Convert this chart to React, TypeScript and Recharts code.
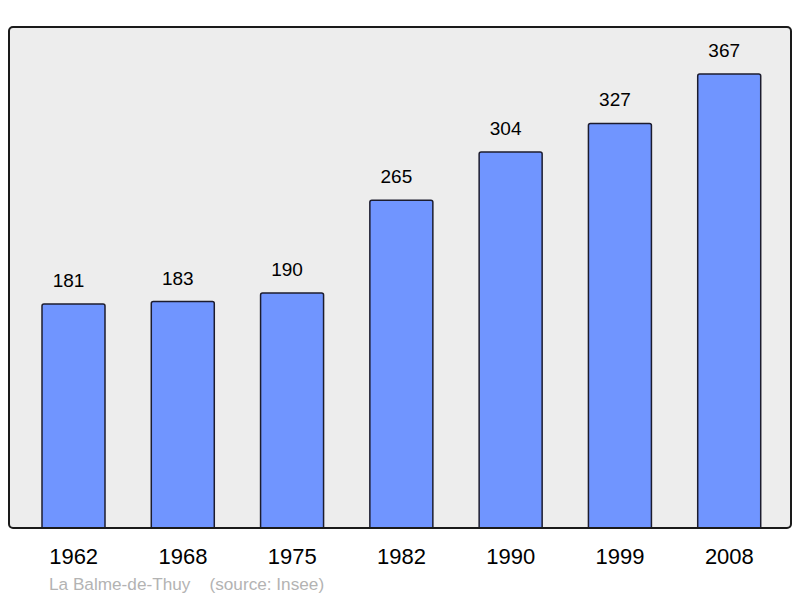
import { BarChart, Bar, XAxis, YAxis, CartesianGrid, LabelList } from "recharts";

const years = ["1962", "1968", "1975", "1982", "1990", "1999", "2008"];
const population = [181, 183, 190, 265, 304, 327, 367];

const data = years.map((year, i) => ({ year, value: population[i] }));

const FONT = "'Liberation Sans', Arial, sans-serif";

export default function App() {
  return (
    <div style={{ position: "absolute", left: 0, top: 0, width: 800, height: 598, fontFamily: FONT }}>
      <BarChart
        width={800}
        height={598}
        data={data}
        margin={{ top: 27, right: 9, bottom: 30, left: 9 }}
      >
        <CartesianGrid fill="#ededed" stroke="none" />
        <XAxis
          dataKey="year"
          height={40}
          axisLine={false}
          tickLine={false}
          tickSize={0}
          tickMargin={20}
          padding={{ left: 10, right: 7 }}
          tick={{ fill: "#000", fontSize: 22, fontFamily: FONT }}
        />
        <YAxis hide domain={[0, 405]} />
        <Bar
          dataKey="value"
          fill="#7095ff"
          stroke="#1c1c2e"
          strokeWidth={1.5}
          barSize={63}
          radius={[2, 2, 0, 0]}
          isAnimationActive={false}
        >
          <LabelList
            dataKey="value"
            position="top"
            offset={17}
            dx={-5}
            style={{ fill: "#000", fontSize: 19, fontFamily: FONT }}
          />
        </Bar>
      </BarChart>
      <div
        style={{
          position: "absolute",
          left: 8,
          top: 26,
          width: 780,
          height: 499,
          border: "2px solid #1a1a1a",
          borderRadius: 5,
          pointerEvents: "none",
        }}
      />
      <div
        style={{
          position: "absolute",
          left: 49,
          top: 574,
          fontSize: 17.2,
          color: "#b3b3b3",
          whiteSpace: "pre",
        }}
      >
        {"La Balme-de-Thuy    (source: Insee)"}
      </div>
    </div>
  );
}
